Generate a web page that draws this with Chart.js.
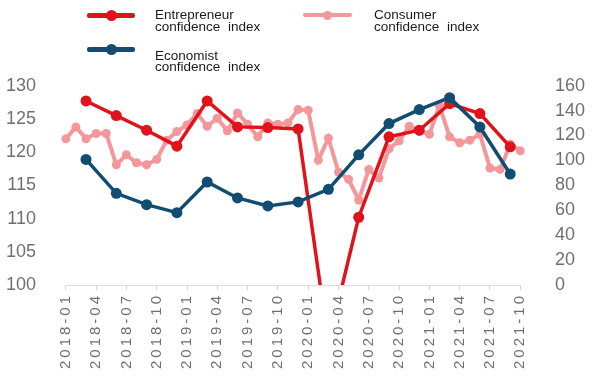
<!DOCTYPE html>
<html>
<head>
<meta charset="utf-8">
<script src="https://cdn.jsdelivr.net/npm/chart.js@4.4.0/dist/chart.umd.min.js"></script>
<style>
  html, body { margin: 0; padding: 0; background: #fff; }
  #wrap { position: relative; width: 599px; height: 383px; }
  #chart { position: absolute; left: 0; top: 0; }
  .lg-line { position: absolute; border-radius: 2px; }
  .lg-dot { position: absolute; border-radius: 50%; }
  .lg-text {
    position: absolute;
    font: 13.5px "Liberation Sans", Arial, sans-serif;
    line-height: 11.5px;
    color: #1a1a1a;
    word-spacing: 4px;
    white-space: nowrap;
  }
</style>
</head>
<body>
<div id="wrap">
  <canvas id="chart" width="599" height="383"></canvas>
</div>
<script>
const months = [
  '2018-01', '2018-02', '2018-03', '2018-04', '2018-05', '2018-06', '2018-07', '2018-08', '2018-09', '2018-10', '2018-11', '2018-12',
  '2019-01', '2019-02', '2019-03', '2019-04', '2019-05', '2019-06', '2019-07', '2019-08', '2019-09', '2019-10', '2019-11', '2019-12',
  '2020-01', '2020-02', '2020-03', '2020-04', '2020-05', '2020-06', '2020-07', '2020-08', '2020-09', '2020-10', '2020-11', '2020-12',
  '2021-01', '2021-02', '2021-03', '2021-04', '2021-05', '2021-06', '2021-07', '2021-08', '2021-09', '2021-10'
];

// quarterly series sit on the last month of each quarter
const quarterMonths = [
  '2018-03', '2018-06', '2018-09', '2018-12',
  '2019-03', '2019-06', '2019-09', '2019-12',
  '2020-03', '2020-06', '2020-09', '2020-12',
  '2021-03', '2021-06', '2021-09'
];

// left axis
const entrepreneurIndex = [127.7, 125.5, 123.3, 120.9, 127.7, 123.8, 123.7, 123.5, 91.3, 110.2, 122.3, 123.3, 127.3, 125.8, 120.8];

// right axis
const economistIndex = [100.8, 73.6, 64.5, 58.1, 82.7, 69.9, 63.5, 66.7, 76.8, 104.5, 129.6, 140.8, 150.4, 126.9, 89.1];

// left axis, monthly
const consumerIndex = [
  122.0, 123.8, 122.0, 122.8, 122.8, 118.1, 119.6, 118.4, 118.1, 118.9, 121.8, 123.1,
  124.1, 125.8, 123.9, 125.1, 123.2, 125.9, 124.2, 122.3, 124.4, 124.2, 124.4, 126.4,
  126.3, 118.8, 122.1, 117.0, 115.9, 112.8, 117.4, 116.1, 120.5, 121.7, 123.9, 123.1,
  122.7, 127.0, 122.3, 121.4, 121.8, 122.7, 117.6, 117.4, 121.2, 120.2
];

const leftRange = [100, 130, 5];
const rightRange = [0, 160, 20];

const RED = '#e0121c';
const BLUE = '#114d72';
const PINK = '#f3979b';
const TICK_GREY = '#707070';

const legendItems = [
  { lines: ['Entrepreneur', 'confidence index'], color: RED, x: 87, y: 15, w: 48, lw: 5, r: 5.5, tx: 155, ty: 9 },
  { lines: ['Consumer', 'confidence index'], color: PINK, x: 303, y: 15, w: 49, lw: 3.5, r: 4.5, tx: 374, ty: 9 },
  { lines: ['Economist', 'confidence index'], color: BLUE, x: 87, y: 49.5, w: 48, lw: 5, r: 5.5, tx: 155, ty: 49.5 }
];

function buildLegend() {
  const wrap = document.getElementById('wrap');
  legendItems.forEach(item => {
    const line = document.createElement('div');
    line.className = 'lg-line';
    line.style.cssText = `left:${item.x}px;top:${item.y - item.lw / 2}px;width:${item.w}px;height:${item.lw}px;background:${item.color};`;
    wrap.appendChild(line);

    const dot = document.createElement('div');
    dot.className = 'lg-dot';
    dot.style.cssText = `left:${item.x + item.w / 2 - item.r}px;top:${item.y - item.r}px;width:${item.r * 2}px;height:${item.r * 2}px;background:${item.color};`;
    wrap.appendChild(dot);

    const text = document.createElement('div');
    text.className = 'lg-text';
    text.style.left = item.tx + 'px';
    text.style.top = item.ty + 'px';
    text.innerHTML = item.lines.join('<br>');
    wrap.appendChild(text);
  });
}

// the x labels in the source are widely tracked; canvas letterSpacing does that
const xLabelSpacing = {
  id: 'xLabelSpacing',
  afterLayout(chart) {
    const sc = chart.scales.x;
    if (!sc || sc._spaced) return;
    const orig = sc.drawLabels.bind(sc);
    sc.drawLabels = function (area) {
      const ctx = this.ctx;
      ctx.letterSpacing = '3px';
      orig(area);
      ctx.letterSpacing = '0px';
    };
    sc._spaced = true;
  }
};

function toPoints(keys, values) {
  return keys.map((k, i) => ({ x: k, y: values[i] }));
}

buildLegend();

const ctx = document.getElementById('chart').getContext('2d');
new Chart(ctx, {
  type: 'line',
  data: {
    labels: months,
    datasets: [
      {
        label: 'Economist confidence index',
        data: toPoints(quarterMonths, economistIndex),
        yAxisID: 'y1',
        borderColor: BLUE,
        backgroundColor: BLUE,
        borderWidth: 3.5,
        pointRadius: 5.5,
        pointBorderWidth: 0,
        tension: 0
      },
      {
        label: 'Entrepreneur confidence index',
        data: toPoints(quarterMonths, entrepreneurIndex),
        yAxisID: 'y',
        borderColor: RED,
        backgroundColor: RED,
        borderWidth: 3.5,
        pointRadius: 5.5,
        pointBorderWidth: 0,
        tension: 0
      },
      {
        label: 'Consumer confidence index',
        data: consumerIndex,
        yAxisID: 'y',
        borderColor: PINK,
        backgroundColor: PINK,
        borderWidth: 4,
        pointRadius: 4.5,
        pointBorderWidth: 0,
        tension: 0
      }
    ]
  },
  options: {
    responsive: false,
    animation: false,
    devicePixelRatio: 1,
    layout: { padding: { left: 6, right: 14, top: 85.7, bottom: 0 } },
    plugins: {
      legend: { display: false },
      tooltip: { enabled: false }
    },
    scales: {
      x: {
        type: 'category',
        offset: false,
        grid: {
          display: true,
          drawOnChartArea: false,
          drawTicks: true,
          tickLength: 5,
          color: c => (c.index % 3 === 0 ? '#d4d4d4' : 'rgba(0,0,0,0)')
        },
        border: { display: true, color: '#dcdcdc', width: 1 },
        ticks: {
          autoSkip: false,
          minRotation: 90,
          maxRotation: 90,
          padding: 3,
          color: TICK_GREY,
          font: { family: '"Liberation Sans", Arial, sans-serif', size: 15 },
          callback: function (v, i) { return i % 3 === 0 ? this.getLabelForValue(v) : ''; }
        },
        afterFit: s => { s.height = 98; }
      },
      y: {
        position: 'left',
        min: leftRange[0],
        max: leftRange[1],
        grid: { display: false, drawTicks: false },
        border: { display: false },
        ticks: {
          stepSize: leftRange[2],
          padding: 29.8,
          color: TICK_GREY,
          font: { family: '"Liberation Sans", Arial, sans-serif', size: 18 }
        },
        afterFit: s => { s.width = 59.8; }
      },
      y1: {
        position: 'right',
        min: rightRange[0],
        max: rightRange[1],
        grid: { display: false, drawTicks: false },
        border: { display: false },
        ticks: {
          stepSize: rightRange[2],
          padding: 34.7,
          color: TICK_GREY,
          font: { family: '"Liberation Sans", Arial, sans-serif', size: 18 }
        },
        afterFit: s => { s.width = 64.7; }
      }
    }
  },
  plugins: [xLabelSpacing]
});
</script>
</body>
</html>
